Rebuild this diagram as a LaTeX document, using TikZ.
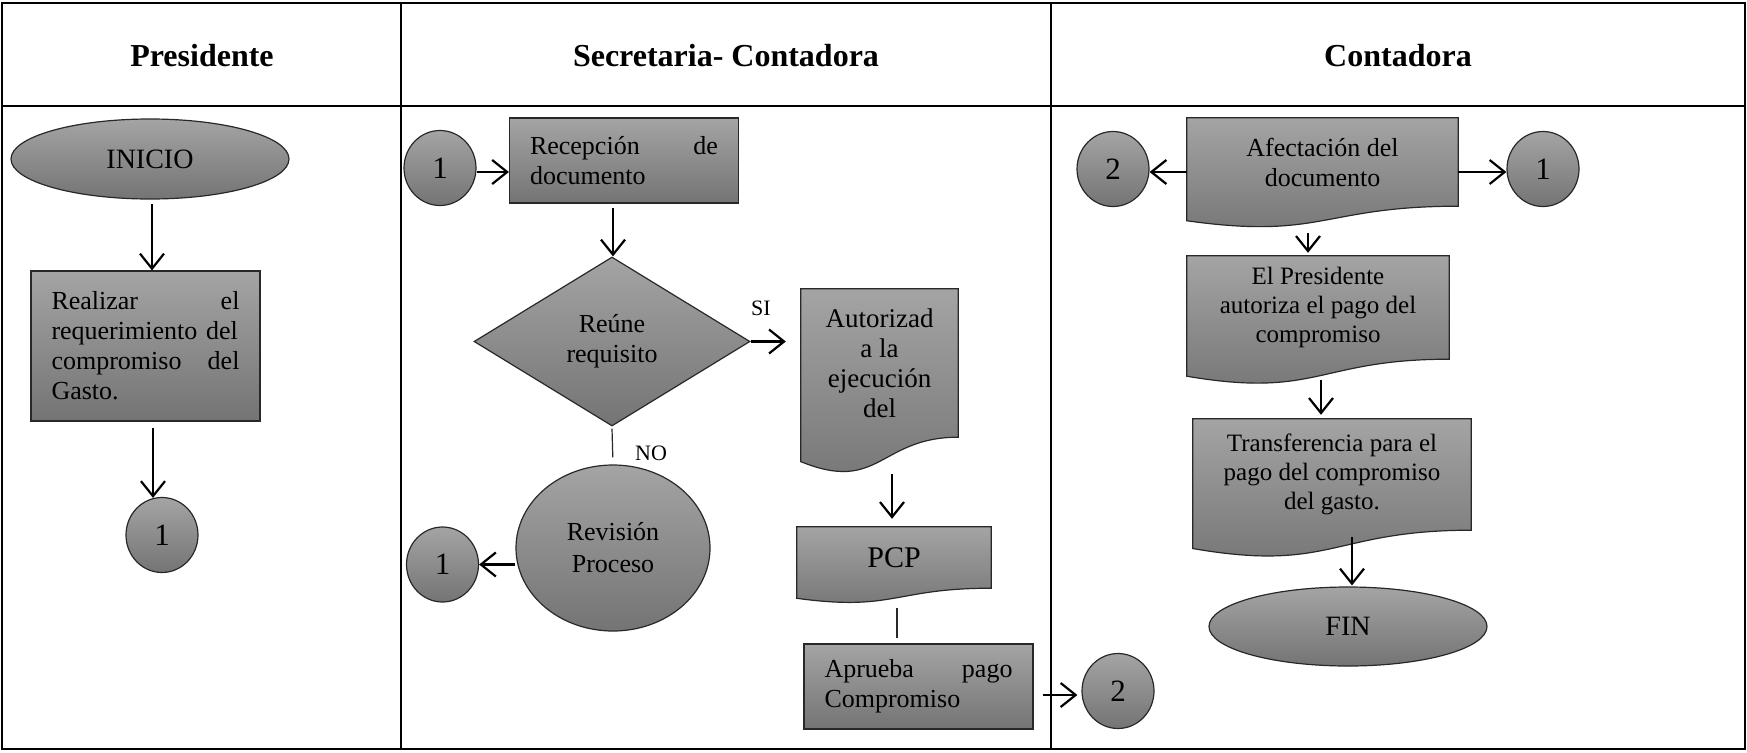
\documentclass[tikz,border=0pt]{standalone}
\usepackage{fontspec}
\setmainfont{Liberation Serif}
\usetikzlibrary{
    shapes.geometric,
    arrows.meta,
    calc,
    backgrounds
}
\definecolor{shadetop}{RGB}{164,164,164}
\definecolor{shadebot}{RGB}{116,116,116}
\definecolor{edgegray}{RGB}{40,40,40}

\begin{document}
\begin{tikzpicture}[x=1pt, y=-1pt,
        grayfill/.style={top color=shadetop, bottom color=shadebot, draw=edgegray, line width=1.2pt},
        proc/.style={grayfill, rectangle, minimum width=229pt, minimum height=85pt, text width=188pt, align=left, inner sep=0pt, font=\fontsize{26}{30}\selectfont},
        doc/.style={rectangle, inner sep=0pt, align=center, font=\fontsize{26}{30}\selectfont},
        term/.style={grayfill, ellipse, minimum width=278pt, minimum height=80pt, inner sep=0pt, font=\fontsize{28}{32}\selectfont},
        conn/.style={grayfill, ellipse, minimum width=72pt, minimum height=75pt, inner sep=0pt, font=\fontsize{31}{34}\selectfont},
        decision/.style={grayfill, diamond, minimum width=276pt, minimum height=169pt, inner sep=0pt, align=center, font=\fontsize{26}{30}\selectfont},
        arrow/.style={-{Straight Barb[length=15pt, width=24pt]}, line width=2.2pt},
        link/.style={line width=1.2pt, draw=edgegray},
        head/.style={font=\fontsize{32}{36}\selectfont\bfseries},
        lbl/.style={font=\fontsize{22}{26}\selectfont},
        tablerule/.style={line width=2.2pt}
    ]
        \useasboundingbox (0,0) rectangle (1747,752);

        % table
        \draw[tablerule] (2,3) rectangle (1745,749);
        \draw[tablerule] (2,106) -- (1745,106);
        \draw[tablerule] (401,3) -- (401,749);
        \draw[tablerule] (1051,3) -- (1051,749);

        \node[head] (hpres) at (202,56) {Presidente};
        \node[head] (hsec) at (726,56) {Secretaria- Contadora};
        \node[head] (hcont) at (1398,56) {Contadora};

        % Presidente
        \node[term] (inicio) at (150,159) {INICIO};
        \node[proc, minimum height=150pt] (realizar) at (145.5,346) {Realizar\hfill el\\requerimiento del\\compromiso\hfill del\\Gasto.};
        \node[conn] (c1a) at (162,535) {1};

        % Secretaria- Contadora
        \node[conn] (c1b) at (440,168) {1};
        \node[proc] (recep) at (624,160.5) {Recepción\hfill de\\documento};
        \node[decision] (reune) at (612,341.5) {Reúne\\requisito};
        \node[doc, minimum width=157pt, minimum height=148pt, font=\fontsize{27}{30}\selectfont] (autor) at (879.5,363) {Autorizad\\a la\\ejecución\\del};
        \node[term, minimum width=194pt, minimum height=166pt, align=center, font=\fontsize{26}{32}\selectfont] (revis) at (613,548) {Revisión\\Proceso};
        \node[conn] (c1c) at (442.5,564.5) {1};
        \node[doc, minimum width=194pt, minimum height=61pt, font=\fontsize{30}{34}\selectfont] (pcp) at (894,557.5) {PCP};
        \node[proc] (aprueba) at (918.5,686.5) {Aprueba\hfill pago\\Compromiso};
        \node[conn] (c2a) at (1118,691) {2};

        % Contadora
        \node[conn] (c2b) at (1113,169) {2};
        \node[doc, minimum width=271pt, minimum height=88pt] (afect) at (1322.5,162) {Afectación del\\documento};
        \node[conn] (c1d) at (1543,169) {1};
        \node[doc, minimum width=262pt, minimum height=103pt, font=\fontsize{25}{29}\selectfont] (presaut) at (1318,307.5) {El Presidente\\autoriza el pago del\\compromiso};
        \node[doc, minimum width=278pt, minimum height=111pt, font=\fontsize{25}{29}\selectfont] (transf) at (1332,474.5) {Transferencia para el\\pago del compromiso\\del gasto.};
        \node[term, minimum height=79pt] (fin) at (1348,626.5) {FIN};

        % wavy document outlines
        \begin{scope}[on background layer]
            \foreach \d in {autor, pcp, afect, presaut, transf}
                \path[grayfill] (\d.north west) -- (\d.north east) -- (\d.south east)
                    .. controls (\d.south) and ($(\d.south)!-0.3815!(\d.north)$) .. ($(\d.south west)!-0.1646!(\d.north west)$) -- cycle;
        \end{scope}

        \draw[arrow] ($(inicio.south)+(2,4)$) -- ($(inicio.south |- realizar.north)+(2,0)$);
        \draw[arrow] ($(realizar.south)+(7.5,6)$) -- ($(c1a.north)+(-9,1)$);

        \draw[arrow] ($(c1b.east)+(0,4)$) -- ($(c1b.east -| recep.west)+(0,4)$);
        \draw[arrow] ($(recep.south -| reune.north)+(1,4)$) -- ($(reune.north)+(1,0)$);
        \draw[arrow] (reune.east) -- ($(reune.east -| autor.west)+(-15,0)$);
        \node[lbl] (si) at (761,308) {SI};
        \draw[link, shorten >=7pt] ($(reune.south)+(0,2)$) -- (revis.north);
        \node[lbl] (no) at (651,453) {NO};
        \draw[arrow] (revis.west |- c1c.east) -- (c1c.east);
        \draw[arrow] ($(autor.south)+(12.5,37)$) -- ($(pcp.north)+(-2,-8)$);
        \draw[link] ($(pcp.south)+(3,20)$) -- ($(aprueba.north)+(-21.5,-5)$);
        \draw[arrow] ($(aprueba.east)+(9,8.5)$) -- ($(c2a.west)+(-4,4)$);

        \draw[arrow] ($(afect.west)+(0,10)$) -- ($(c2b.east)+(0,3)$);
        \draw[arrow] ($(afect.east)+(0,10)$) -- ($(c1d.west)+(0,3)$);
        \draw[arrow] ($(afect.south)+(-14.5,27)$) -- ($(presaut.north)+(-10,-3)$);
        \draw[arrow] ($(presaut.south)+(3,21)$) -- ($(transf.north)+(-11,-4)$);
        \draw[arrow] ($(transf.south)+(20,7)$) -- ($(fin.north)+(4,-1)$);
    \end{tikzpicture}
\end{document}
